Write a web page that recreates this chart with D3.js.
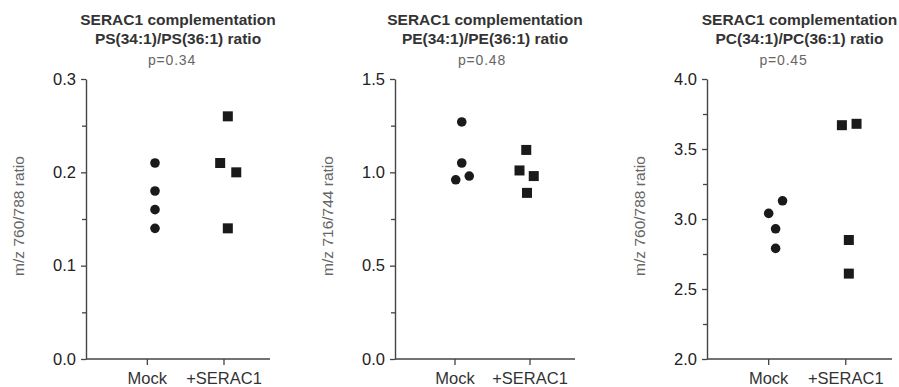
<!DOCTYPE html>
<html>
<head>
<meta charset="utf-8">
<script src="https://cdn.jsdelivr.net/npm/d3@7"></script>
<style>
  html, body { margin: 0; padding: 0; background: #fff; }
  svg { display: block; font-family: "Liberation Sans", Arial, Helvetica, sans-serif; }
</style>
</head>
<body>
<svg id="chart" width="899" height="387"></svg>
<script>
// ---- data ----
const categories = ["Mock", "+SERAC1"];
const titlesLine1 = ["SERAC1 complementation", "SERAC1 complementation", "SERAC1 complementation"];
const titlesLine2 = ["PS(34:1)/PS(36:1) ratio", "PE(34:1)/PE(36:1) ratio", "PC(34:1)/PC(36:1) ratio"];
const pValues = ["p=0.34", "p=0.48", "p=0.45"];
const yLabels = ["m/z 760/788 ratio", "m/z 716/744 ratio", "m/z 760/788 ratio"];
const yDomains = [[0, 0.3], [0, 1.5], [2.0, 4.0]];
const yMajorTicks = [[0, 0.1, 0.2, 0.3], [0, 0.5, 1.0, 1.5], [2.0, 2.5, 3.0, 3.5, 4.0]];
const yMinorTicks = [[0.05, 0.15, 0.25], [0.25, 0.75, 1.25], [2.25, 2.75, 3.25, 3.75]];

// PS panel
const psMock   = [0.21, 0.18, 0.16, 0.14];
const psSerac  = [0.26, 0.21, 0.20, 0.14];
// PE panel
const peMock   = [1.27, 1.05, 0.96, 0.98];
const peSerac  = [1.12, 1.01, 0.98, 0.89];
// PC panel
const pcMock   = [3.13, 3.04, 2.93, 2.79];
const pcSerac  = [3.67, 3.68, 2.85, 2.61];

// horizontal scatter (jitter) of each point, in category-step units
const psMockJit  = [0.10, 0.10, 0.10, 0.10];
const psSeracJit = [0.05, -0.05, 0.16, 0.05];
const peMockJit  = [0.09, 0.09, 0.01, 0.19];
const peSeracJit = [-0.05, -0.14, 0.05, -0.04];
const pcMockJit  = [0.18, 0.00, 0.09, 0.09];
const pcSeracJit = [-0.05, 0.14, 0.04, 0.04];

const panels = [
  { mock: psMock, serac: psSerac, mj: psMockJit, sj: psSeracJit },
  { mock: peMock, serac: peSerac, mj: peMockJit, sj: peSeracJit },
  { mock: pcMock, serac: pcSerac, mj: pcMockJit, sj: pcSeracJit }
];

// ---- layout ----
const axisX = [86, 395, 707];
const axisEnd = [270, 575, 892];
const pShift = [-6, -3, -16];
const yTop = 79, yBottom = 359;
const axisColor = "#444";
const markColor = "#1a1a1a";

const svg = d3.select("#chart");

panels.forEach((p, i) => {
  const g = svg.append("g");
  const x = d3.scaleLinear().domain([-0.8, 1.6]).range([axisX[i], axisEnd[i]]);
  const y = d3.scaleLinear().domain(yDomains[i]).range([yBottom, yTop]);
  const mid = (axisX[i] + axisEnd[i]) / 2;

  // titles
  g.append("text").attr("x", mid).attr("y", 25).attr("text-anchor", "middle")
    .attr("font-size", 15.5).attr("font-weight", "bold").attr("fill", "#333")
    .text(titlesLine1[i]);
  g.append("text").attr("x", mid).attr("y", 44).attr("text-anchor", "middle")
    .attr("font-size", 15.5).attr("font-weight", "bold").attr("fill", "#333")
    .text(titlesLine2[i]);
  g.append("text").attr("x", mid + pShift[i]).attr("y", 65).attr("text-anchor", "middle")
    .attr("font-size", 14).attr("letter-spacing", 0.8).attr("fill", "#666")
    .text(pValues[i]);

  // y axis (major)
  const yAxis = d3.axisLeft(y).tickValues(yMajorTicks[i]).tickFormat(d3.format(".1f"))
    .tickSizeInner(5).tickSizeOuter(0).tickPadding(5);
  const ya = g.append("g").attr("transform", `translate(${axisX[i]},0)`).call(yAxis);
  ya.select(".domain").attr("stroke", axisColor).attr("stroke-width", 1.4);
  ya.selectAll(".tick line").attr("stroke", axisColor).attr("stroke-width", 1.3);
  ya.selectAll(".tick text").attr("font-size", 16.5).attr("fill", "#222")
    .attr("font-family", "Liberation Sans, Arial, sans-serif");
  // y axis minor
  const yMinor = d3.axisLeft(y).tickValues(yMinorTicks[i]).tickFormat("").tickSizeInner(4).tickSizeOuter(0);
  const ym = g.append("g").attr("transform", `translate(${axisX[i]},0)`).call(yMinor);
  ym.select(".domain").remove();
  ym.selectAll(".tick line").attr("stroke", axisColor).attr("stroke-width", 1.3);

  // x axis
  const xa = g.append("g").attr("transform", `translate(0,${yBottom})`);
  xa.append("line").attr("x1", axisX[i]).attr("x2", axisEnd[i]).attr("y1", 0).attr("y2", 0)
    .attr("stroke", axisColor).attr("stroke-width", 1.4);
  categories.forEach((c, k) => {
    xa.append("line").attr("x1", x(k)).attr("x2", x(k)).attr("y1", 0).attr("y2", 6)
      .attr("stroke", axisColor).attr("stroke-width", 1.3);
    xa.append("text").attr("x", x(k)).attr("y", 25).attr("text-anchor", "middle")
      .attr("font-size", 16.5).attr("fill", "#333").text(c);
  });

  // y label
  const lx = axisX[i] - 68, ly = 216;
  g.append("text").attr("transform", `translate(${lx},${ly}) rotate(-90)`)
    .attr("text-anchor", "middle").attr("dominant-baseline", "central")
    .attr("font-size", 15.5).attr("fill", "#666").text(yLabels[i]);

  // points
  g.selectAll("circle.m").data(p.mock).join("circle")
    .attr("cx", (d, j) => x(0 + p.mj[j])).attr("cy", d => y(d)).attr("r", 4.8)
    .attr("fill", markColor);
  const s = 10;
  g.selectAll("rect.s").data(p.serac).join("rect")
    .attr("x", (d, j) => x(1 + p.sj[j]) - s / 2).attr("y", d => y(d) - s / 2)
    .attr("width", s).attr("height", s).attr("fill", markColor);
});
</script>
</body>
</html>
